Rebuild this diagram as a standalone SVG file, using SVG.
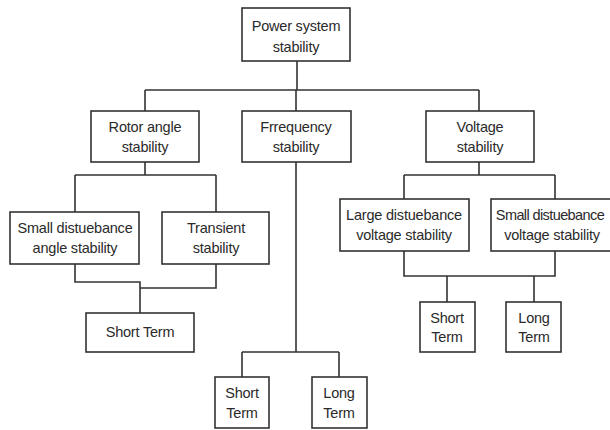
<svg xmlns="http://www.w3.org/2000/svg" width="610" height="430" viewBox="0 0 610 430">
<style>
.box{fill:#fff;stroke:#333;stroke-width:1.6}
.t{font-family:"Liberation Sans",Arial,sans-serif;font-size:14.5px;fill:#2a2a2a;text-anchor:middle;letter-spacing:-0.2px}
.c{fill:none;stroke:#333;stroke-width:1.6}
</style>
<rect width="610" height="430" fill="#fff"/>
<g id="connectors">
<path class="c" d="M297 61V90M145 90H479M145 90V111M296 90V111M479 90V111"/>
<path class="c" d="M145 162V175M75 175H216M75 175V212M216 175V212"/>
<path class="c" d="M75 264V282H140V313M216 264V288H140"/>
<path class="c" d="M296 162V352M242 352H339M242 352V377M339 352V377"/>
<path class="c" d="M479 162V175M404 175H555M404 175V199M555 175V199"/>
<path class="c" d="M404 251V276H555V251M447 276V302M534 276V302"/>
</g>
<g id="power"><rect class="box" x="242" y="8" width="108" height="53"/><text class="t" x="296" y="31">Power system</text><text class="t" x="296" y="52">stability</text></g>
<g id="rotor"><rect class="box" x="91" y="111" width="108" height="51"/><text class="t" x="145" y="132">Rotor angle</text><text class="t" x="145" y="152">stability</text></g>
<g id="frequency"><rect class="box" x="242" y="111" width="109" height="51"/><text class="t" x="296" y="132">Frrequency</text><text class="t" x="296" y="152">stability</text></g>
<g id="voltage"><rect class="box" x="426" y="111" width="108" height="51"/><text class="t" x="480" y="132">Voltage</text><text class="t" x="480" y="152">stability</text></g>
<g id="small-angle"><rect class="box" x="10" y="212" width="129" height="52"/><text class="t" x="75" y="233">Small distuebance</text><text class="t" x="75" y="253">angle stability</text></g>
<g id="transient"><rect class="box" x="162" y="212" width="107" height="52"/><text class="t" x="216" y="233">Transient</text><text class="t" x="216" y="253">stability</text></g>
<g id="short-rotor"><rect class="box" x="86" y="313" width="108" height="39"/><text class="t" x="140" y="337">Short Term</text></g>
<g id="short-freq"><rect class="box" x="215" y="377" width="54" height="51"/><text class="t" x="242" y="398">Short</text><text class="t" x="242" y="418">Term</text></g>
<g id="long-freq"><rect class="box" x="312" y="377" width="55" height="51"/><text class="t" x="339" y="398">Long</text><text class="t" x="339" y="418">Term</text></g>
<g id="large-voltage"><rect class="box" x="340" y="199" width="129" height="52"/><text class="t" x="404" y="220">Large distuebance</text><text class="t" x="404" y="240">voltage stability</text></g>
<g id="small-voltage"><rect class="box" x="491" y="199" width="125" height="52"/><text class="t" x="550" y="220" style="letter-spacing:-0.6px">Small distuebance</text><text class="t" x="552" y="240">voltage stability</text></g>
<g id="short-volt"><rect class="box" x="420" y="302" width="55" height="50"/><text class="t" x="447" y="323">Short</text><text class="t" x="447" y="342">Term</text></g>
<g id="long-volt"><rect class="box" x="506" y="302" width="55" height="50"/><text class="t" x="534" y="323">Long</text><text class="t" x="534" y="342">Term</text></g>
</svg>
